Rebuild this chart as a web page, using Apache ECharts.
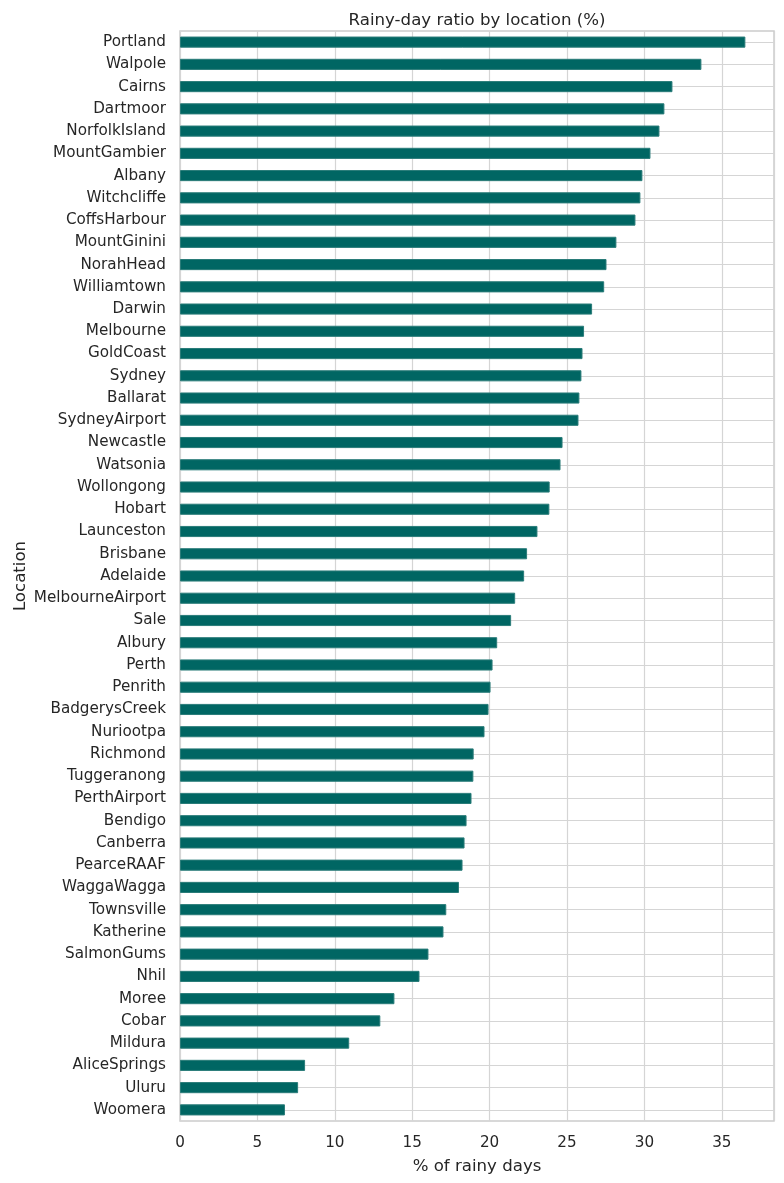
<!DOCTYPE html>
<html>
<head>
<meta charset="utf-8">
<script src="https://cdn.jsdelivr.net/npm/echarts@6/dist/echarts.min.js"></script>
<style>
  html, body { margin: 0; padding: 0; background: #fff; }
  #main { width: 784px; height: 1183px; }
</style>
</head>
<body>
<div id="main"></div>
<script>
var myChart = echarts.init(document.getElementById('main'));

// locations, top to bottom as in the picture
var locations = ['Portland', 'Walpole', 'Cairns', 'Dartmoor', 'NorfolkIsland', 'MountGambier',
  'Albany', 'Witchcliffe', 'CoffsHarbour', 'MountGinini', 'NorahHead', 'Williamtown',
  'Darwin', 'Melbourne', 'GoldCoast', 'Sydney', 'Ballarat', 'SydneyAirport',
  'Newcastle', 'Watsonia', 'Wollongong', 'Hobart', 'Launceston', 'Brisbane',
  'Adelaide', 'MelbourneAirport', 'Sale', 'Albury', 'Perth', 'Penrith',
  'BadgerysCreek', 'Nuriootpa', 'Richmond', 'Tuggeranong', 'PerthAirport', 'Bendigo',
  'Canberra', 'PearceRAAF', 'WaggaWagga', 'Townsville', 'Katherine', 'SalmonGums',
  'Nhil', 'Moree', 'Cobar', 'Mildura', 'AliceSprings', 'Uluru', 'Woomera'];

// % of rainy days
var rainyPct = [36.52, 33.68, 31.81, 31.29, 30.97, 30.39,
  29.87, 29.74, 29.42, 28.19, 27.55, 27.40,
  26.62, 26.10, 26.00, 25.93, 25.80, 25.74,
  24.71, 24.58, 23.88, 23.86, 23.09, 22.42,
  22.23, 21.65, 21.39, 20.49, 20.19, 20.06,
  19.93, 19.67, 18.97, 18.95, 18.83, 18.51,
  18.38, 18.25, 18.02, 17.20, 17.02, 16.05,
  15.47, 13.85, 12.94, 10.93, 8.08, 7.63, 6.78];

var xMax = 38.37;
var txt = '#262626';
var gridCol = '#d5d5d5';
var font = 'DejaVu Sans';

option = {
  animation: false,
  backgroundColor: '#ffffff',
  textStyle: { fontFamily: font },
  title: {
    text: 'Rainy-day ratio by location (%)',
    left: 472,
    textAlign: 'center',
    top: 7,
    textStyle: { color: txt, fontSize: 16.6, fontWeight: 'normal', fontFamily: font }
  },
  grid: {
    left: 180, right: 10, top: 31, bottom: 62,
    outerBoundsMode: 'none',
    containLabel: false,
    show: true,
    borderColor: '#cccccc',
    borderWidth: 1.5,
    backgroundColor: 'transparent'
  },
  xAxis: {
    type: 'value',
    min: 0,
    max: xMax,
    interval: 5,
    name: '% of rainy days',
    nameLocation: 'middle',
    nameGap: 37,
    nameMoveOverlap: false,
    nameTextStyle: { color: txt, fontSize: 16.6, fontFamily: font },
    axisLine: { show: false },
    axisTick: { show: false },
    axisLabel: {
      color: txt, fontSize: 15.2, fontFamily: font, margin: 15,
      formatter: function (v) { return (v % 5 === 0) ? String(v) : ''; }
    },
    splitLine: { show: true, lineStyle: { color: gridCol, width: 1.2 } }
  },
  yAxis: {
    type: 'category',
    data: locations,
    inverse: true,
    name: 'Location',
    nameLocation: 'middle',
    nameGap: 151,
    nameMoveOverlap: false,
    nameTextStyle: { color: txt, fontSize: 16.6, fontFamily: font },
    axisLine: { show: false },
    axisTick: { show: false, alignWithLabel: true },
    axisLabel: { color: txt, fontSize: 15.2, fontFamily: font, margin: 14, interval: 0 },
    splitLine: {
      show: true,
      alignWithLabel: true,
      interval: 0,
      lineStyle: { color: gridCol, width: 1.2 }
    }
  },
  series: [{
    type: 'bar',
    data: rainyPct,
    barWidth: '50%',
    itemStyle: {
      color: '#006663',
      borderColor: '#2a7c79',
      borderWidth: 1
    }
  }]
};

myChart.setOption(option);
</script>
</body>
</html>
